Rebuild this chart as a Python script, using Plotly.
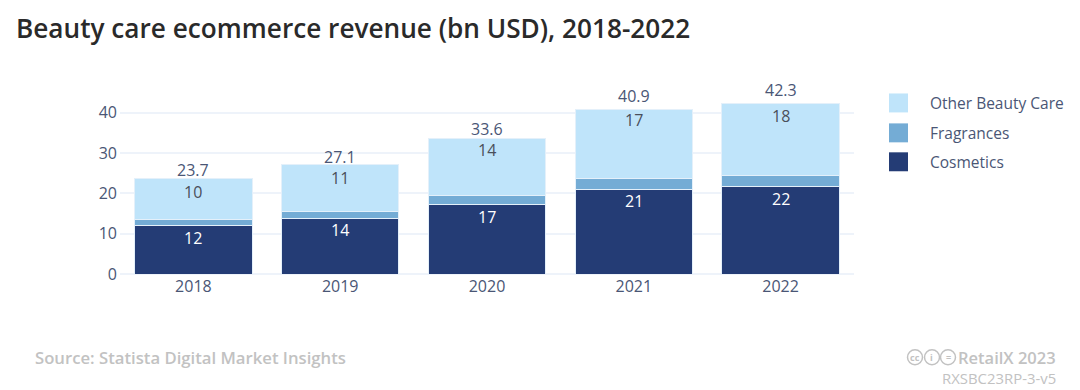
import plotly.graph_objects as go

years = ["2018", "2019", "2020", "2021", "2022"]
cosmetics = [12.0, 13.7, 17.2, 21.0, 21.6]
fragrances = [1.6, 1.8, 2.3, 2.7, 2.8]
other = [10.1, 11.6, 14.1, 17.2, 17.9]
totals = [23.7, 27.1, 33.6, 40.9, 42.3]
cosmetics_labels = ["12", "14", "17", "21", "22"]
other_labels = ["10", "11", "14", "17", "18"]
total_labels = ["23.7", "27.1", "33.6", "40.9", "42.3"]
series_names = ["Other Beauty Care", "Fragrances", "Cosmetics"]
series_colors = ["#BFE4FA", "#74ACD5", "#243C75"]
y_ticks = [0, 10, 20, 30, 40]

FONT = "Open Sans"
AXIS_TXT = "#4A5675"
LINE = "#E4F0FA"
GREY = "#C2C2C2"
L, T, W, H = 120, 81, 734, 193.5
BASE = T + H

fig = go.Figure()
for vals, col in zip([cosmetics, fragrances, other], [series_colors[2], series_colors[1], series_colors[0]]):
    fig.add_bar(x=years, y=vals, marker=dict(color=col, line=dict(color=LINE, width=1)), hoverinfo="skip")

shapes = []
annotations = []

# value labels, nudged individually to sit where the reference has them
cos_top = cosmetics
oth_top = [c + f + o for c, f, o in zip(cosmetics, fragrances, other)]
for i, (top, lab, off) in enumerate(zip(cos_top, cosmetics_labels, [12, 11, 12, 12, 12])):
    annotations.append(dict(x=i, y=top, text=lab, yshift=-off, showarrow=False, yanchor="middle",
                            font=dict(size=16, color="#FFFFFF", family=FONT)))
for i, (top, lab, off) in enumerate(zip(oth_top, other_labels, [13, 13, 11, 11, 12])):
    annotations.append(dict(x=i, y=top, text=lab, yshift=-off, showarrow=False, yanchor="middle",
                            font=dict(size=16, color="#4A4F5A", family=FONT)))
for i, (top, lab, off) in enumerate(zip(totals, total_labels, [9, 8, 10, 13, 14])):
    annotations.append(dict(x=i, y=top, text=lab, yshift=off, showarrow=False, yanchor="middle",
                            font=dict(size=16, color=AXIS_TXT, family=FONT)))

legend_y = [103, 133, 162]
for name, color, ly in zip(series_names, series_colors, legend_y):
    shapes.append(dict(type="rect", xref="paper", yref="paper", x0=(889 - L) / W, x1=(908 - L) / W,
                       y0=(BASE - ly - 9.5) / H, y1=(BASE - ly + 9.5) / H,
                       fillcolor=color, line=dict(width=0)))
    annotations.append(dict(text=name, xref="paper", yref="paper", x=(928 - L) / W, y=(BASE - ly) / H,
                            xanchor="left", yanchor="middle", showarrow=False,
                            font=dict(size=15.5, color=AXIS_TXT, family=FONT)))


def page(text, x, y, size, color, weight=400, anchor="left"):
    annotations.append(dict(text=text, xref="paper", yref="paper", x=(x - L) / W, y=(BASE - y) / H,
                            xanchor=anchor, yanchor="middle", showarrow=False,
                            font=dict(size=size, color=color, family=FONT, weight=weight)))


page("Beauty care ecommerce revenue (bn USD), 2018-2022", 14, 28, 26.2, "#2A2A2A", 600)
page("Source: Statista Digital Market Insights", 33, 358, 16.7, GREY, 600)
page("RetailX 2023", 1058, 358, 16.5, GREY, 600, "right")
page("RXSBC23RP-3-v5", 1058, 379, 14.9, GREY, 400, "right")
for cx, glyph in zip([915, 932, 948], ["cc", "i", "="]):
    shapes.append(dict(type="circle", xref="paper", yref="paper", x0=(cx - 7.5 - L) / W, x1=(cx + 7.5 - L) / W,
                       y0=(BASE - 358 - 7.5) / H, y1=(BASE - 358 + 7.5) / H,
                       line=dict(color=GREY, width=1.5)))
    page(glyph, cx, 358, 9, GREY, 700, "center")

fig.update_layout(
    width=1080, height=390, barmode="stack", bargap=0.2, showlegend=False,
    margin=dict(l=L, r=1080 - L - W, t=T, b=390 - BASE),
    paper_bgcolor="white", plot_bgcolor="white",
    font=dict(family=FONT, size=16, color=AXIS_TXT),
    xaxis=dict(type="category", range=[-0.5, 4.5], showgrid=False, showline=False, ticks="",
               tickfont=dict(size=16, color=AXIS_TXT), ticklabelstandoff=1),
    yaxis=dict(range=[0, H / 4.04], tickvals=y_ticks, gridcolor="#EEF3FA", gridwidth=2,
               zeroline=True, zerolinecolor="#EEF3FA", zerolinewidth=2, showline=False, ticks="",
               tickfont=dict(size=16, color=AXIS_TXT), ticklabelstandoff=2),
    shapes=shapes, annotations=annotations,
)
fig.write_html("out.html", config={"displayModeBar": False},
               post_script="document.body.style.margin='0';")
